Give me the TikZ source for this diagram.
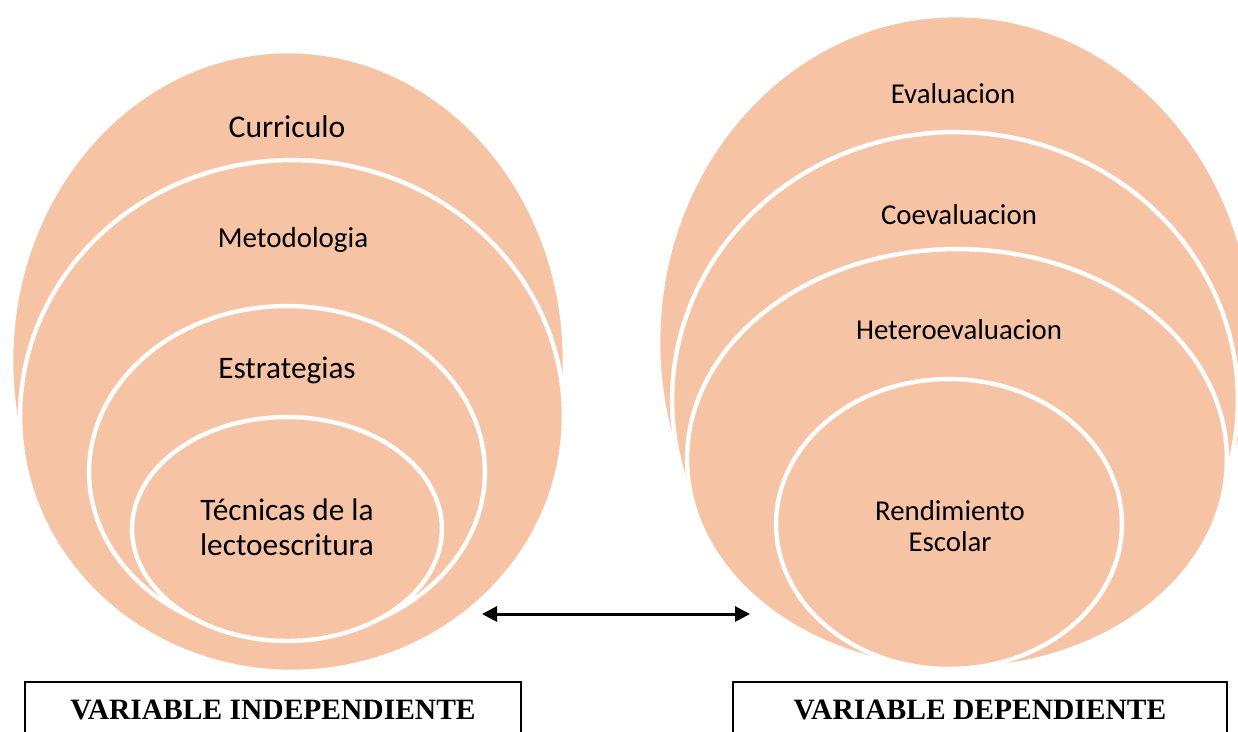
\documentclass[tikz,border=0pt]{standalone}
\usepackage{fontspec}
\setmainfont{Carlito}
\newfontfamily\romana{Liberation Serif}
\usetikzlibrary{shapes.geometric,arrows.meta}
\definecolor{melocoton}{HTML}{F7C3A5}

\begin{document}
\begin{tikzpicture}[x=0.02cm,y=-0.02cm,
  burbuja/.style n args={2}{ellipse, fill=melocoton, draw=white, line width=2.5pt,
    inner sep=0pt, minimum width={#1*0.04cm}, minimum height={#2*0.04cm}},
  etiqueta/.style={anchor=base, align=center, inner sep=0pt},
  caja/.style={draw, line width=1.1pt, anchor=north, minimum height=1.14cm,
    font=\romana\bfseries\fontsize{16.8}{19}\selectfont},
  flecha/.style={arrows={Triangle[length=0.3cm,width=0.3cm]-Triangle[length=0.3cm,width=0.3cm]}, line width=1.7pt}]
\useasboundingbox (0,0) rectangle (1238,731);
% Variable independiente
\node[burbuja={277}{310}] (curriculo) at (288,361) {};
\node[burbuja={272}{256}] (metodologia) at (292,416) {};
\node[burbuja={198}{166}] (estrategias) at (287,472) {};
\node[burbuja={155}{112}] (tecnicas) at (287,529) {};
\node[etiqueta, font=\fontsize{18}{21}\selectfont] (tcurriculo) at (287,137) {Curriculo};
\node[etiqueta, font=\fontsize{16.5}{20}\selectfont] (tmetodologia) at (293,247) {Metodologia};
\node[etiqueta, font=\fontsize{17.8}{21}\selectfont] (testrategias) at (287,378) {Estrategias};
\node[etiqueta, font=\fontsize{17.8}{19.8}\selectfont] (ttecnicas) at (287,555) {Técnicas de la\\lectoescritura};
% Variable dependiente
\node[burbuja={298}{327}] (evaluacion) at (956,342) {};
\node[burbuja={283}{268}] (coevaluacion) at (955,400) {};
\node[burbuja={270}{210}] (hetero) at (957,459) {};
\node[burbuja={173}{145}] (rendimiento) at (949,524) {};
\node[etiqueta, font=\fontsize{16.4}{19}\selectfont] (tevaluacion) at (953,103) {Evaluacion};
\node[etiqueta, font=\fontsize{16.4}{19}\selectfont] (tcoevaluacion) at (959,224) {Coevaluacion};
\node[etiqueta, font=\fontsize{16.4}{19}\selectfont] (thetero) at (959,339) {Heteroevaluacion};
\node[etiqueta, font=\fontsize{16.4}{17.6}\selectfont] (trendimiento) at (950,551) {Rendimiento\\Escolar};
% Relacion
\coordinate (izq) at (482,614);
\coordinate (der) at (750,614);
\draw[flecha] (izq) -- (der);
% Recuadros
\node[caja, minimum width=9.92cm] (independiente) at (273,681) {VARIABLE INDEPENDIENTE};
\node[caja, minimum width=9.88cm] (dependiente) at (980,681) {VARIABLE DEPENDIENTE};
\end{tikzpicture}
\end{document}
